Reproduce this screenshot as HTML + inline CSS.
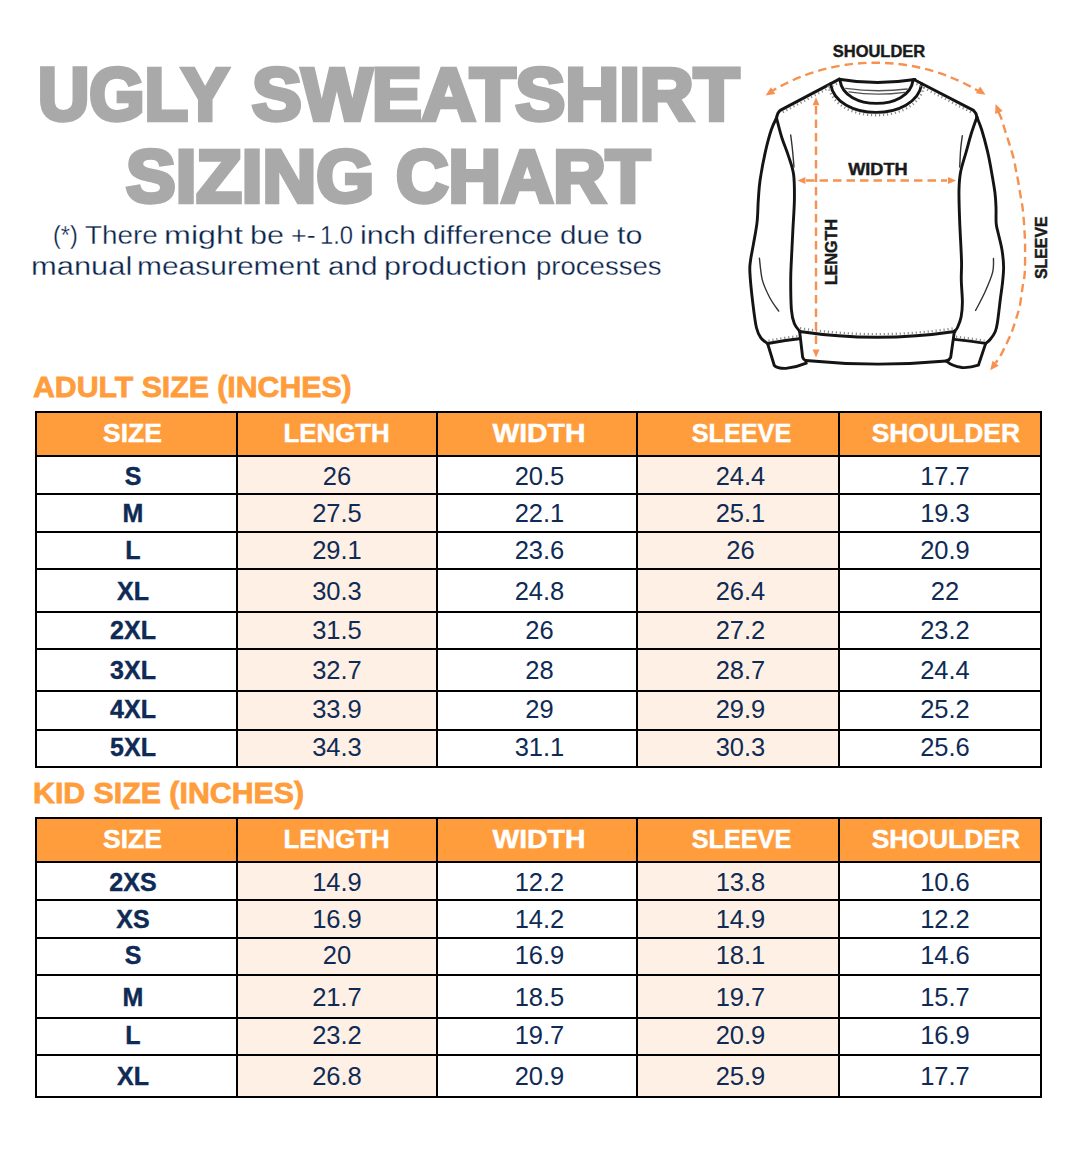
<!DOCTYPE html>
<html><head><meta charset="utf-8"><title>Ugly Sweatshirt Sizing Chart</title>
<style>
html,body{margin:0;padding:0;background:#fff;}
body{width:1074px;height:1162px;position:relative;overflow:hidden;font-family:"Liberation Sans",sans-serif;}
.t{position:absolute;white-space:nowrap;transform-origin:0 0;}
.bg{position:absolute;}
.ln{position:absolute;background:#000;}
.cell{position:absolute;width:200px;display:flex;align-items:center;justify-content:center;white-space:nowrap;}
.hd{color:#fff;font-weight:bold;font-size:25.6px;-webkit-text-stroke:0.45px #fff;}
.sz{color:#0f2b55;font-weight:bold;font-size:25px;-webkit-text-stroke:0.4px #0f2b55;}
.num{color:#0f2b55;font-size:25.5px;}
.title{color:#a9a9a9;font-weight:bold;font-size:73.4px;line-height:73.4px;-webkit-text-stroke:4.5px #a9a9a9;}
.sub{color:#08234a;font-size:25.3px;line-height:25.3px;-webkit-text-stroke:0.3px #fff;}
.sec{color:#ff9d3c;font-weight:bold;font-size:29.4px;line-height:29.4px;-webkit-text-stroke:0.8px #ff9d3c;}
</style></head><body>
<div class="t title" id="t1a" style="left:38.06px;top:59.4px;transform:scaleX(0.9685)">UGLY</div>
<div class="t title" id="t1b" style="left:251.5px;top:59.4px;transform:scaleX(1.0156)">SWEATSHIRT</div>
<div class="t title" id="t2a" style="left:126px;top:141.4px;transform:scaleX(1.014)">SIZING</div>
<div class="t title" id="t2b" style="left:395.7px;top:141.4px;transform:scaleX(0.9895)">CHART</div>
<div class="t sub" id="w0_0" style="left:53.07px;top:222.8px;transform:scaleX(0.9292)">(*)</div>
<div class="t sub" id="w0_1" style="left:85.30px;top:222.8px;transform:scaleX(1.1000)">There</div>
<div class="t sub" id="w0_2" style="left:164.15px;top:222.8px;transform:scaleX(1.2767)">might</div>
<div class="t sub" id="w0_3" style="left:250.38px;top:222.8px;transform:scaleX(1.2080)">be</div>
<div class="t sub" id="w0_4" style="left:290.84px;top:222.8px;transform:scaleX(1.0619)">+-</div>
<div class="t sub" id="w0_5" style="left:320.22px;top:222.8px;transform:scaleX(0.9406)">1.0</div>
<div class="t sub" id="w0_6" style="left:359.89px;top:222.8px;transform:scaleX(1.2070)">inch</div>
<div class="t sub" id="w0_7" style="left:422.53px;top:222.8px;transform:scaleX(1.1679)">difference</div>
<div class="t sub" id="w0_8" style="left:560.03px;top:222.8px;transform:scaleX(1.1725)">due</div>
<div class="t sub" id="w0_9" style="left:617.00px;top:222.8px;transform:scaleX(1.2050)">to</div>
<div class="t sub" id="w1_0" style="left:30.96px;top:254.4px;transform:scaleX(1.2215)">manual</div>
<div class="t sub" id="w1_1" style="left:137.13px;top:254.4px;transform:scaleX(1.1843)">measurement</div>
<div class="t sub" id="w1_2" style="left:328.13px;top:254.4px;transform:scaleX(1.1725)">and</div>
<div class="t sub" id="w1_3" style="left:384.48px;top:254.4px;transform:scaleX(1.2096)">production</div>
<div class="t sub" id="w1_4" style="left:535.72px;top:254.4px;transform:scaleX(1.0885)">processes</div>
<div class="t sec" id="h1" style="left:33px;top:372.4px;transform:scaleX(1.029)">ADULT SIZE (INCHES)</div>
<div class="t sec" id="h2" style="left:33.1px;top:777.9px;transform:scaleX(1.031)">KID SIZE (INCHES)</div>
<div class="bg" style="left:35px;top:411px;width:1007px;height:44px;background:#ff9d3c"></div>
<div class="bg" style="left:236px;top:455px;width:200px;height:313px;background:#fef0e4"></div>
<div class="bg" style="left:636px;top:455px;width:202px;height:313px;background:#fef0e4"></div>
<div class="ln" style="left:35px;top:411px;width:1007px;height:2px"></div>
<div class="ln" style="left:35px;top:455px;width:1007px;height:2px"></div>
<div class="ln" style="left:35px;top:493px;width:1007px;height:2px"></div>
<div class="ln" style="left:35px;top:531px;width:1007px;height:2px"></div>
<div class="ln" style="left:35px;top:568px;width:1007px;height:2px"></div>
<div class="ln" style="left:35px;top:611px;width:1007px;height:2px"></div>
<div class="ln" style="left:35px;top:648px;width:1007px;height:2px"></div>
<div class="ln" style="left:35px;top:690px;width:1007px;height:2px"></div>
<div class="ln" style="left:35px;top:729px;width:1007px;height:2px"></div>
<div class="ln" style="left:35px;top:766px;width:1007px;height:2px"></div>
<div class="ln" style="left:35px;top:411px;width:2px;height:357px"></div>
<div class="ln" style="left:236px;top:411px;width:2px;height:357px"></div>
<div class="ln" style="left:436px;top:411px;width:2px;height:357px"></div>
<div class="ln" style="left:636px;top:411px;width:2px;height:357px"></div>
<div class="ln" style="left:838px;top:411px;width:2px;height:357px"></div>
<div class="ln" style="left:1040px;top:411px;width:2px;height:357px"></div>
<div class="cell hd" style="left:32.5px;top:412px;height:42px"><span style="display:inline-block;transform:scaleX(1.035)">SIZE</span></div>
<div class="cell hd" style="left:236.39999999999998px;top:412px;height:42px"><span style="display:inline-block;transform:scaleX(1.01)">LENGTH</span></div>
<div class="cell hd" style="left:438.70000000000005px;top:412px;height:42px"><span style="display:inline-block;transform:scaleX(1.108)">WIDTH</span></div>
<div class="cell hd" style="left:641.3px;top:412px;height:42px"><span style="display:inline-block;transform:scaleX(0.985)">SLEEVE</span></div>
<div class="cell hd" style="left:845.7px;top:412px;height:42px"><span style="display:inline-block;transform:scaleX(1.033)">SHOULDER</span></div>
<div class="cell sz" style="left:33px;top:458.5px;height:36px">S</div>
<div class="cell num" style="left:237px;top:458.5px;height:36px">26</div>
<div class="cell num" style="left:439.5px;top:458.5px;height:36px">20.5</div>
<div class="cell num" style="left:640.5px;top:458.5px;height:36px">24.4</div>
<div class="cell num" style="left:845px;top:458.5px;height:36px">17.7</div>
<div class="cell sz" style="left:33px;top:495.8px;height:36px">M</div>
<div class="cell num" style="left:237px;top:495.8px;height:36px">27.5</div>
<div class="cell num" style="left:439.5px;top:495.8px;height:36px">22.1</div>
<div class="cell num" style="left:640.5px;top:495.8px;height:36px">25.1</div>
<div class="cell num" style="left:845px;top:495.8px;height:36px">19.3</div>
<div class="cell sz" style="left:33px;top:532.6px;height:35px">L</div>
<div class="cell num" style="left:237px;top:532.6px;height:35px">29.1</div>
<div class="cell num" style="left:439.5px;top:532.6px;height:35px">23.6</div>
<div class="cell num" style="left:640.5px;top:532.6px;height:35px">26</div>
<div class="cell num" style="left:845px;top:532.6px;height:35px">20.9</div>
<div class="cell sz" style="left:33px;top:570.9px;height:41px">XL</div>
<div class="cell num" style="left:237px;top:570.9px;height:41px">30.3</div>
<div class="cell num" style="left:439.5px;top:570.9px;height:41px">24.8</div>
<div class="cell num" style="left:640.5px;top:570.9px;height:41px">26.4</div>
<div class="cell num" style="left:845px;top:570.9px;height:41px">22</div>
<div class="cell sz" style="left:33px;top:612.8px;height:35px">2XL</div>
<div class="cell num" style="left:237px;top:612.8px;height:35px">31.5</div>
<div class="cell num" style="left:439.5px;top:612.8px;height:35px">26</div>
<div class="cell num" style="left:640.5px;top:612.8px;height:35px">27.2</div>
<div class="cell num" style="left:845px;top:612.8px;height:35px">23.2</div>
<div class="cell sz" style="left:33px;top:650.4px;height:40px">3XL</div>
<div class="cell num" style="left:237px;top:650.4px;height:40px">32.7</div>
<div class="cell num" style="left:439.5px;top:650.4px;height:40px">28</div>
<div class="cell num" style="left:640.5px;top:650.4px;height:40px">28.7</div>
<div class="cell num" style="left:845px;top:650.4px;height:40px">24.4</div>
<div class="cell sz" style="left:33px;top:691.4px;height:37px">4XL</div>
<div class="cell num" style="left:237px;top:691.4px;height:37px">33.9</div>
<div class="cell num" style="left:439.5px;top:691.4px;height:37px">29</div>
<div class="cell num" style="left:640.5px;top:691.4px;height:37px">29.9</div>
<div class="cell num" style="left:845px;top:691.4px;height:37px">25.2</div>
<div class="cell sz" style="left:33px;top:730.2px;height:35px">5XL</div>
<div class="cell num" style="left:237px;top:730.2px;height:35px">34.3</div>
<div class="cell num" style="left:439.5px;top:730.2px;height:35px">31.1</div>
<div class="cell num" style="left:640.5px;top:730.2px;height:35px">30.3</div>
<div class="cell num" style="left:845px;top:730.2px;height:35px">25.6</div>
<div class="bg" style="left:35px;top:817px;width:1007px;height:44px;background:#ff9d3c"></div>
<div class="bg" style="left:236px;top:861px;width:200px;height:237px;background:#fef0e4"></div>
<div class="bg" style="left:636px;top:861px;width:202px;height:237px;background:#fef0e4"></div>
<div class="ln" style="left:35px;top:817px;width:1007px;height:2px"></div>
<div class="ln" style="left:35px;top:861px;width:1007px;height:2px"></div>
<div class="ln" style="left:35px;top:899px;width:1007px;height:2px"></div>
<div class="ln" style="left:35px;top:937px;width:1007px;height:2px"></div>
<div class="ln" style="left:35px;top:974px;width:1007px;height:2px"></div>
<div class="ln" style="left:35px;top:1017px;width:1007px;height:2px"></div>
<div class="ln" style="left:35px;top:1054px;width:1007px;height:2px"></div>
<div class="ln" style="left:35px;top:1096px;width:1007px;height:2px"></div>
<div class="ln" style="left:35px;top:817px;width:2px;height:281px"></div>
<div class="ln" style="left:236px;top:817px;width:2px;height:281px"></div>
<div class="ln" style="left:436px;top:817px;width:2px;height:281px"></div>
<div class="ln" style="left:636px;top:817px;width:2px;height:281px"></div>
<div class="ln" style="left:838px;top:817px;width:2px;height:281px"></div>
<div class="ln" style="left:1040px;top:817px;width:2px;height:281px"></div>
<div class="cell hd" style="left:32.5px;top:818px;height:42px"><span style="display:inline-block;transform:scaleX(1.035)">SIZE</span></div>
<div class="cell hd" style="left:236.39999999999998px;top:818px;height:42px"><span style="display:inline-block;transform:scaleX(1.01)">LENGTH</span></div>
<div class="cell hd" style="left:438.70000000000005px;top:818px;height:42px"><span style="display:inline-block;transform:scaleX(1.108)">WIDTH</span></div>
<div class="cell hd" style="left:641.3px;top:818px;height:42px"><span style="display:inline-block;transform:scaleX(0.985)">SLEEVE</span></div>
<div class="cell hd" style="left:845.7px;top:818px;height:42px"><span style="display:inline-block;transform:scaleX(1.033)">SHOULDER</span></div>
<div class="cell sz" style="left:33px;top:864.6px;height:36px">2XS</div>
<div class="cell num" style="left:237px;top:864.6px;height:36px">14.9</div>
<div class="cell num" style="left:439.5px;top:864.6px;height:36px">12.2</div>
<div class="cell num" style="left:640.5px;top:864.6px;height:36px">13.8</div>
<div class="cell num" style="left:845px;top:864.6px;height:36px">10.6</div>
<div class="cell sz" style="left:33px;top:901.3px;height:36px">XS</div>
<div class="cell num" style="left:237px;top:901.3px;height:36px">16.9</div>
<div class="cell num" style="left:439.5px;top:901.3px;height:36px">14.2</div>
<div class="cell num" style="left:640.5px;top:901.3px;height:36px">14.9</div>
<div class="cell num" style="left:845px;top:901.3px;height:36px">12.2</div>
<div class="cell sz" style="left:33px;top:938.2px;height:35px">S</div>
<div class="cell num" style="left:237px;top:938.2px;height:35px">20</div>
<div class="cell num" style="left:439.5px;top:938.2px;height:35px">16.9</div>
<div class="cell num" style="left:640.5px;top:938.2px;height:35px">18.1</div>
<div class="cell num" style="left:845px;top:938.2px;height:35px">14.6</div>
<div class="cell sz" style="left:33px;top:976.5px;height:41px">M</div>
<div class="cell num" style="left:237px;top:976.5px;height:41px">21.7</div>
<div class="cell num" style="left:439.5px;top:976.5px;height:41px">18.5</div>
<div class="cell num" style="left:640.5px;top:976.5px;height:41px">19.7</div>
<div class="cell num" style="left:845px;top:976.5px;height:41px">15.7</div>
<div class="cell sz" style="left:33px;top:1018.4px;height:35px">L</div>
<div class="cell num" style="left:237px;top:1018.4px;height:35px">23.2</div>
<div class="cell num" style="left:439.5px;top:1018.4px;height:35px">19.7</div>
<div class="cell num" style="left:640.5px;top:1018.4px;height:35px">20.9</div>
<div class="cell num" style="left:845px;top:1018.4px;height:35px">16.9</div>
<div class="cell sz" style="left:33px;top:1056.6px;height:40px">XL</div>
<div class="cell num" style="left:237px;top:1056.6px;height:40px">26.8</div>
<div class="cell num" style="left:439.5px;top:1056.6px;height:40px">20.9</div>
<div class="cell num" style="left:640.5px;top:1056.6px;height:40px">25.9</div>
<div class="cell num" style="left:845px;top:1056.6px;height:40px">17.7</div>
<svg id="shirt" style="position:absolute;left:0;top:0" width="1074" height="400" viewBox="0 0 1074 400">
<style>.lb{font-family:"Liberation Sans",sans-serif;font-weight:bold;font-size:17.2px;fill:#1a1a1a;stroke:#1a1a1a;stroke-width:0.45px;}</style>
<path d="M839,79.2 Q876,85.6 915,79.5" fill="none" stroke="#141414" stroke-width="2.9" stroke-linecap="round" stroke-linejoin="round" />
<path d="M840,80.5 C844,111 909,111 913,80.5" fill="none" stroke="#141414" stroke-width="2.9" stroke-linecap="round" stroke-linejoin="round" />
<path d="M830.6,83.7 C836,122 916,122 921.7,83.6" fill="none" stroke="#141414" stroke-width="2.9" stroke-linecap="round" stroke-linejoin="round" />
<path d="M845.7,88.4 Q876,92.8 907.2,89" fill="none" stroke="#555" stroke-width="1.3" stroke-linecap="round" stroke-linejoin="round" />
<path d="M849,91.8 Q876,96.2 904.9,92.3" fill="none" stroke="#555" stroke-width="1.3" stroke-linecap="round" stroke-linejoin="round" />
<path d="M839.4,79.1 L780.2,110.4 Q777.4,112.6 776.5,117.9" fill="none" stroke="#141414" stroke-width="2.9" stroke-linecap="round" stroke-linejoin="round" />
<path d="M913.8,79.5 L973.5,110.4 Q976.2,112.8 976.9,117.1" fill="none" stroke="#141414" stroke-width="2.9" stroke-linecap="round" stroke-linejoin="round" />
<path d="M776.5,117.9 C775.6,119.9 773.2,124.1 771.3,129.8 C769.4,135.5 767.2,143.7 765.3,152.1 C763.4,160.5 761.3,172.0 760.1,180.0 C758.9,188.0 758.8,193.0 758.3,200.0 C757.8,207.0 757.9,214.5 757.1,221.9 C756.3,229.3 754.5,238.0 753.4,244.3 C752.3,250.7 751.2,255.3 750.6,260.0 C750.0,264.7 749.5,265.3 749.9,272.3 C750.2,279.3 751.6,292.9 752.7,302.1 C753.8,311.3 755.0,321.5 756.4,327.5 C757.8,333.5 759.0,335.2 760.9,337.9 C762.8,340.6 766.5,342.6 767.6,343.5" fill="none" stroke="#141414" stroke-width="2.9" stroke-linecap="round" stroke-linejoin="round" />
<path d="M776.5,117.9 C777.4,121.1 779.7,130.9 781.7,137.2 C783.7,143.5 786.4,149.7 788.4,155.9 C790.4,162.1 792.6,167.2 793.6,174.5 C794.6,181.8 794.5,190.4 794.4,199.6 C794.3,208.8 793.4,219.3 792.9,229.4 C792.4,239.5 791.8,251.6 791.4,260.0 C791.0,268.4 790.7,271.5 790.7,279.8 C790.7,288.1 790.8,302.3 791.4,309.6 C792.0,316.9 792.9,319.9 794.3,323.5 C795.7,327.1 798.7,329.9 799.6,331.2" fill="none" stroke="#141414" stroke-width="2.9" stroke-linecap="round" stroke-linejoin="round" />
<path d="M790.7,135.0 C791.0,137.5 792.0,144.7 792.5,150.0 C793.0,155.3 793.8,164.2 794.0,167.0" fill="none" stroke="#333" stroke-width="1.4" stroke-linecap="round" stroke-linejoin="round" />
<path d="M759.4,258.2 C759.9,261.8 760.6,273.2 762.3,279.8 C764.0,286.4 767.1,292.5 769.8,297.7 C772.5,302.9 777.2,308.9 778.7,311.1" fill="none" stroke="#333" stroke-width="1.4" stroke-linecap="round" stroke-linejoin="round" />
<path d="M767.6,343.5 Q783,340.5 799,338.8" fill="none" stroke="#141414" stroke-width="2.9" stroke-linecap="round" stroke-linejoin="round" />
<path d="M767.6,343.5 L774.3,365.5 Q777,368.6 786,368.4 Q797,367.2 806.3,363.2" fill="none" stroke="#141414" stroke-width="2.9" stroke-linecap="round" stroke-linejoin="round" />
<path d="M799.6,331.2 L802.6,357 Q803.4,359.6 805.5,360.5" fill="none" stroke="#141414" stroke-width="2.9" stroke-linecap="round" stroke-linejoin="round" />
<path d="M799.6,331.5 Q877,343 955,331.5" fill="none" stroke="#141414" stroke-width="2.9" stroke-linecap="round" stroke-linejoin="round" />
<path d="M805.5,360.5 Q876,367.5 946.2,361" fill="none" stroke="#141414" stroke-width="2.9" stroke-linecap="round" stroke-linejoin="round" />
<path d="M954.4,331.2 L950.7,357.3 Q949.5,360 946.2,361" fill="none" stroke="#141414" stroke-width="2.9" stroke-linecap="round" stroke-linejoin="round" />
<path d="M954.4,339.4 Q970,341 985.7,343.4" fill="none" stroke="#141414" stroke-width="2.9" stroke-linecap="round" stroke-linejoin="round" />
<path d="M985.7,343.4 L978.4,365.2 Q970,368 962,367.5 Q952,366.2 947,361.5" fill="none" stroke="#141414" stroke-width="2.9" stroke-linecap="round" stroke-linejoin="round" />
<path d="M976.9,117.1 C977.7,119.2 979.9,124.0 981.7,129.8 C983.5,135.6 986.1,145.4 987.7,152.1 C989.3,158.8 990.0,163.3 991.2,170.0 C992.4,176.7 994.1,186.1 994.9,192.3 C995.7,198.5 995.8,202.0 996.0,207.2 C996.2,212.4 995.8,219.2 996.2,223.6 C996.6,227.9 997.2,228.9 998.2,233.3 C999.2,237.7 1001.1,244.4 1002.0,250.0 C1002.9,255.6 1003.5,261.2 1003.6,266.8 C1003.7,272.4 1003.0,278.0 1002.4,283.6 C1001.8,289.2 1001.0,293.8 1000.2,300.3 C999.4,306.8 998.2,317.5 997.4,322.7 C996.6,327.9 996.4,328.9 995.2,331.7 C994.0,334.5 991.7,337.6 990.1,339.5 C988.5,341.4 986.4,342.8 985.7,343.4" fill="none" stroke="#141414" stroke-width="2.9" stroke-linecap="round" stroke-linejoin="round" />
<path d="M976.9,117.1 C976.0,119.8 973.1,127.7 971.3,133.5 C969.5,139.3 967.9,145.7 966.1,152.1 C964.3,158.5 961.8,165.8 960.6,172.0 C959.4,178.2 959.2,181.7 959.0,189.6 C958.8,197.5 959.2,207.7 959.6,219.4 C960.0,231.1 961.2,249.9 961.5,260.0 C961.8,270.1 961.1,272.8 961.3,279.8 C961.4,286.8 962.4,295.9 962.4,302.1 C962.4,308.3 961.9,312.8 961.1,317.0 C960.3,321.2 958.6,325.1 957.5,327.5 C956.4,329.9 954.9,330.6 954.4,331.2" fill="none" stroke="#141414" stroke-width="2.9" stroke-linecap="round" stroke-linejoin="round" />
<path d="M962.3,135.8 C962.0,138.2 961.0,144.8 960.6,150.0 C960.2,155.2 959.9,164.2 959.7,167.0" fill="none" stroke="#333" stroke-width="1.4" stroke-linecap="round" stroke-linejoin="round" />
<path d="M993.5,258.4 C993.4,260.7 994.0,266.8 992.6,272.4 C991.2,278.0 987.8,285.7 985.0,292.0 C982.2,298.3 977.2,307.3 975.6,310.4" fill="none" stroke="#333" stroke-width="1.4" stroke-linecap="round" stroke-linejoin="round" />
<path d="M836.9,83.6 L781.5,112.9" fill="none" stroke="#8a8a8a" stroke-width="2.4" stroke-linejoin="round" stroke-dasharray="1.2 2.8" stroke-linecap="butt"/>
<path d="M916.5,84 L972.5,113" fill="none" stroke="#8a8a8a" stroke-width="2.4" stroke-linejoin="round" stroke-dasharray="1.2 2.8" stroke-linecap="butt"/>
<path d="M828.4,85.5 C834,125.2 918.3,125.2 924,85.5" fill="none" stroke="#8a8a8a" stroke-width="2.4" stroke-linejoin="round" stroke-dasharray="1.2 2.8" stroke-linecap="butt"/>
<path d="M800,328.3 Q877,340 954,328.3" fill="none" stroke="#8a8a8a" stroke-width="2.4" stroke-linejoin="round" stroke-dasharray="1.2 2.8" stroke-linecap="butt"/>
<path d="M768.5,340.8 Q783,337.8 798,336.2" fill="none" stroke="#8a8a8a" stroke-width="2.4" stroke-linejoin="round" stroke-dasharray="1.2 2.8" stroke-linecap="butt"/>
<path d="M956,336.8 Q970,338.4 984.5,340.8" fill="none" stroke="#8a8a8a" stroke-width="2.4" stroke-linejoin="round" stroke-dasharray="1.2 2.8" stroke-linecap="butt"/>
<path d="M772.0,91.0 A202.5,202.5 0 0 1 979.0,91.3" fill="none" stroke="#f6914f" stroke-width="2.4" stroke-linejoin="round" stroke-dasharray="8.5 5" stroke-dashoffset="3.5" stroke-linecap="butt"/>
<path d="M806,180.5 L947,180.5" fill="none" stroke="#f6914f" stroke-width="2.4" stroke-linejoin="round" stroke-dasharray="8.5 5" stroke-linecap="butt"/>
<path d="M816,106 L816,349" fill="none" stroke="#f6914f" stroke-width="2.4" stroke-linejoin="round" stroke-dasharray="8.5 5" stroke-linecap="butt"/>
<path d="M998.5,112.0 C998.9,113.0 999.9,114.6 1001.1,117.9 C1002.3,121.2 1004.1,127.5 1005.5,132.0 C1006.9,136.5 1008.3,140.5 1009.6,144.7 C1010.9,148.9 1012.3,153.1 1013.4,157.4 C1014.5,161.7 1015.3,166.9 1016.1,170.7 C1016.9,174.5 1017.3,176.6 1018.0,180.4 C1018.7,184.2 1019.5,189.3 1020.2,193.8 C1021.0,198.3 1021.9,202.6 1022.5,207.2 C1023.1,211.8 1023.5,216.8 1023.9,221.4 C1024.3,226.0 1024.5,230.5 1024.7,234.8 C1024.9,239.2 1025.1,241.2 1025.1,247.5 C1025.1,253.8 1025.2,265.8 1024.8,272.4 C1024.4,279.0 1023.4,281.3 1022.6,286.9 C1021.8,292.5 1020.9,300.5 1019.8,305.9 C1018.7,311.3 1017.3,314.9 1015.9,319.4 C1014.5,323.9 1013.1,328.5 1011.4,332.8 C1009.7,337.1 1007.7,341.2 1005.8,345.1 C1003.9,349.0 1001.9,353.3 1000.2,356.3 C998.5,359.3 996.3,361.9 995.5,363.0" fill="none" stroke="#f6914f" stroke-width="2.4" stroke-linejoin="round" stroke-dasharray="8.5 5" stroke-linecap="butt"/>
<path d="M765.6,95.5 L770.9,87.2 L775.3,93.9 Z" fill="#f6914f"/>
<path d="M985.5,94.8 L975.8,93.2 L980.2,86.5 Z" fill="#f6914f"/>
<path d="M797.4,180.5 L805.4,177.0 L805.4,184.0 Z" fill="#f6914f"/>
<path d="M956.0,180.5 L948.0,184.0 L948.0,177.0 Z" fill="#f6914f"/>
<path d="M816.0,97.2 L819.5,105.2 L812.5,105.2 Z" fill="#f6914f"/>
<path d="M816.0,357.5 L812.5,349.5 L819.5,349.5 Z" fill="#f6914f"/>
<path d="M995.6,104.1 L1002.6,111.0 L995.1,113.9 Z" fill="#f6914f"/>
<path d="M990.1,370.3 L992.6,360.8 L998.8,365.7 Z" fill="#f6914f"/>

<text x="879" y="56.7" text-anchor="middle" class="lb" textLength="92.5" lengthAdjust="spacingAndGlyphs">SHOULDER</text>
<text x="877.9" y="175.3" text-anchor="middle" class="lb" textLength="59.5" lengthAdjust="spacingAndGlyphs">WIDTH</text>
<text transform="translate(836.6,252) rotate(-90)" text-anchor="middle" class="lb" textLength="66" lengthAdjust="spacingAndGlyphs">LENGTH</text>
<text transform="translate(1046.9,247.7) rotate(-90)" text-anchor="middle" class="lb" textLength="62.5" lengthAdjust="spacingAndGlyphs">SLEEVE</text>

</svg>
</body></html>
